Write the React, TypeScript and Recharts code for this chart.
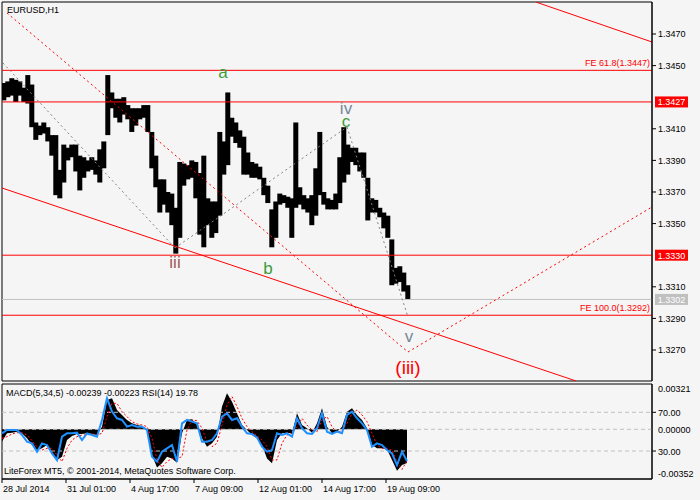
import React from 'react';
import {
  ComposedChart,
  Bar,
  Area,
  Line,
  XAxis,
  YAxis,
  ReferenceLine,
  ReferenceArea,
  ReferenceDot,
} from 'recharts';

const FONT = '"Liberation Sans", Arial, sans-serif';
const BG = '#f5f5f5';

// ---------- price data (H1 bars, aggregated 4 hours per mark) ----------
const GROUP_HOURS = 4;
const priceHigh = [
  1.3439, 1.344, 1.3442, 1.3441, 1.344, 1.3436, 1.3444, 1.3438, 1.3414, 1.3412,
  1.3414, 1.3411, 1.3406, 1.3406, 1.3384, 1.34, 1.3398, 1.34, 1.34, 1.3393,
  1.3392, 1.339, 1.3392, 1.339, 1.3397, 1.3402, 1.3444, 1.3433, 1.3429, 1.3429,
  1.343, 1.3425, 1.3423, 1.3423, 1.3423, 1.3425, 1.3425, 1.3408, 1.3393, 1.3378,
  1.3378, 1.337, 1.3369, 1.336, 1.3389, 1.3388, 1.3387, 1.339, 1.3389, 1.3382,
  1.3393, 1.3366, 1.3364, 1.3364, 1.3408, 1.3402, 1.3433, 1.3417, 1.3414, 1.3409,
  1.3405, 1.3395, 1.3389, 1.3388, 1.3386, 1.3379, 1.3374, 1.3359, 1.3364, 1.3369,
  1.3368, 1.3367, 1.3366, 1.3414, 1.3373, 1.3368, 1.3366, 1.3368, 1.3385, 1.3408,
  1.337, 1.3366, 1.3365, 1.3369, 1.3392, 1.3411, 1.34, 1.3398, 1.3398, 1.3395,
  1.3395, 1.3379, 1.3366, 1.3365, 1.336, 1.3357, 1.3355, 1.334, 1.3322, 1.3323,
  1.3319, 1.3311,
];
const priceLow = [
  1.3428, 1.343, 1.3431, 1.3427, 1.3431, 1.3427, 1.3426, 1.3411, 1.3403, 1.3406,
  1.3407, 1.3402, 1.3393, 1.3368, 1.3366, 1.3376, 1.339, 1.3392, 1.3383, 1.3371,
  1.3379, 1.3383, 1.3384, 1.3381, 1.3376, 1.3385, 1.3406, 1.3423, 1.3417, 1.3414,
  1.3419, 1.3416, 1.3408, 1.3412, 1.3416, 1.3417, 1.3408, 1.3385, 1.3373, 1.3357,
  1.3362, 1.3357, 1.3349, 1.3331, 1.3341, 1.3374, 1.3378, 1.3379, 1.3366, 1.3343,
  1.3335, 1.3349, 1.3341, 1.3344, 1.3355, 1.3381, 1.3387, 1.3405, 1.3401, 1.3398,
  1.3381, 1.3381, 1.3379, 1.3379, 1.3378, 1.3368, 1.3363, 1.3335, 1.3341, 1.3362,
  1.3363, 1.336, 1.3341, 1.336, 1.3362, 1.3359, 1.3357, 1.3349, 1.3355, 1.3368,
  1.3362, 1.3359, 1.3359, 1.3359, 1.3363, 1.3376, 1.3381, 1.3389, 1.3387, 1.3383,
  1.3379, 1.3352, 1.3357, 1.3357, 1.3354, 1.3347, 1.3341, 1.3311, 1.3312, 1.3313,
  1.3307, 1.3302,
];

// ---------- oscillator data (sampled every 5 bars) ----------
const OSC_STEP = 5;
const macdMain = [
  -0.00087, -0.00028, -0.00024, -0.00017, -0.00028, -0.00064, -0.00111, -0.00147, -0.00135, -0.00111,
  -0.0017, -0.00217, -0.00194, -0.00076, -0.00047, -0.00033, -0.00033, -0.00028, -0.00033, -0.0004,
  0.00019, 0.00208, 0.0022, 0.00137, 0.00102, 0.00066, 0.00043, 0.00031, 0.00024, 0.00002,
  -0.00182, -0.0027, -0.00241, -0.00194, -0.00206, -0.00236, -0.00028, 0.00066, 0.00071, 0.00031,
  -0.00064, -0.00123, -0.00099, -0.00052, 0.00161, 0.00255, 0.00196, 0.00113, 0.00031, -0.00005,
  -0.0004, -0.00064, -0.00111, -0.00206, -0.00241, -0.00076, -0.00028, -0.00024, -0.00028, 0.00113,
  0.00031, 0.00007, -0.00024, 0.00043, 0.00149, 0.00019, -0.00028, -0.00017, 0.00019, 0.00125,
  0.00149, 0.00102, 0.00066, 0.00007, -0.00111, -0.00135, -0.00135, -0.00142, -0.00217, -0.00293,
  -0.00253, -0.00239,
];
const macdSignal = [
  -0.00064, -0.00052, -0.00033, -0.00024, -0.00024, -0.0004, -0.0008, -0.00123, -0.00147, -0.00135,
  -0.00135, -0.00182, -0.00229, -0.00135, -0.00076, -0.00052, -0.0004, -0.0004, -0.00033, -0.0004,
  -0.00028, 0.0009, 0.00184, 0.00184, 0.00125, 0.0009, 0.00054, 0.00038, 0.00031, 0.00019,
  -0.00064, -0.00217, -0.0027, -0.00229, -0.00206, -0.00206, -0.00194, -0.00005, 0.00066, 0.00061,
  0.00007, -0.00087, -0.00123, -0.00099, 0.00031, 0.00173, 0.00232, 0.00161, 0.00078, 0.00019,
  -0.00017, -0.00047, -0.00076, -0.00123, -0.00217, -0.00217, -0.00099, -0.0004, -0.00028, 0.00019,
  0.00078, 0.00031, -0.00005, -0.00017, 0.00066, 0.0009, 0.00019, -0.00024, -0.00009, 0.00043,
  0.00113, 0.00137, 0.00102, 0.00054, -0.00028, -0.00111, -0.00135, -0.00135, -0.00147, -0.00229,
  -0.00284, -0.00223,
];
const rsiValues = [
  48.3, 51.7, 51.7, 51.7, 46.6, 39.7, 37.9, 29.3, 37.9, 36.2,
  27.6, 20.7, 44.8, 48.3, 48.3, 49.0, 41.4, 48.3, 46.6, 44.8,
  62.1, 84.5, 70.7, 63.8, 62.1, 55.2, 56.9, 55.2, 55.2, 51.7,
  24.1, 19.0, 29.3, 32.8, 36.2, 19.0, 58.6, 62.1, 60.4, 58.6,
  39.7, 39.7, 41.4, 48.3, 65.5, 69.0, 62.1, 63.8, 55.2, 48.3,
  47.6, 44.1, 34.5, 29.3, 31.0, 48.3, 46.6, 48.3, 44.8, 63.8,
  53.5, 48.3, 47.6, 53.5, 69.0, 50.0, 47.6, 50.0, 48.3, 67.3,
  70.7, 63.8, 58.6, 51.7, 34.5, 37.9, 36.2, 31.0, 27.6, 15.5,
  29.3, 19.78,
];

// ---------- axes ----------
const PRICE_MIN = 1.325038;
const PRICE_MAX = 1.349025;
const BAR_MIN = 0;
const BAR_MAX = 650;
const priceTicks = [1.327, 1.329, 1.331, 1.335, 1.337, 1.339, 1.341, 1.345, 1.347];
const timeTicks = [0, 64, 128, 192, 256, 320, 384];
const timeLabels = ['28 Jul 2014', '31 Jul 01:00', '4 Aug 17:00', '7 Aug 09:00', '12 Aug 01:00', '14 Aug 17:00', '19 Aug 09:00'];
const MACD_MIN = -0.00352;
const MACD_MAX = 0.00321;
const macdTicks = [MACD_MAX, 0, MACD_MIN];
const RSI_MIN = 1.1;
const RSI_MAX = 99.25;
const rsiLevels = [70, 30];

// ---------- chart objects ----------
const levels = [
  { price: 1.3447, kind: 'fe', text: 'FE 61.8(1.3447)' },
  { price: 1.3427, kind: 'tag', text: '1.3427' },
  { price: 1.333, kind: 'tag', text: '1.3330' },
  { price: 1.3302, kind: 'bid', text: '1.3302' },
  { price: 1.3292, kind: 'fe', text: 'FE 100.0(1.3292)' },
];
const trendLines = [
  { kind: 'solid', from: [0, 1.337253], to: [574, 1.32504] },
  { kind: 'solid', from: [534, 1.34902], to: [650, 1.346494] },
  { kind: 'redDot', from: [5, 1.348329], to: [406, 1.326873] },
  { kind: 'redDot', from: [406, 1.326873], to: [650, 1.336051] },
  { kind: 'greyDot', from: [1, 1.345165], to: [173, 1.333456] },
  { kind: 'greyDot', from: [173, 1.333456], to: [345, 1.341114] },
  { kind: 'greyDot', from: [345, 1.341114], to: [406, 1.329089] },
];
const waveLabels = [
  { text: 'a', bar: 221, price: 1.344215, kind: 'minor' },
  { text: 'iv', bar: 344, price: 1.34193, kind: 'inter' },
  { text: 'c', bar: 344, price: 1.341114, kind: 'minor' },
  { text: 'iii', bar: 173, price: 1.33219, kind: 'low' },
  { text: 'b', bar: 266, price: 1.33181, kind: 'minor' },
  { text: 'v', bar: 407, price: 1.327506, kind: 'inter' },
  { text: '(iii)', bar: 406, price: 1.325481, kind: 'major' },
];

const levelStyle: Record<string, string> = { fe: '#ff0000', tag: '#ff0000', bid: '#c0c0c0' };
const trendStyle: Record<string, { stroke: string; dash?: string }> = {
  solid: { stroke: '#ff0000' },
  redDot: { stroke: '#ff0000', dash: '2 3' },
  greyDot: { stroke: '#808080', dash: '2 3' },
};
const waveStyle: Record<string, { fill: string; size: number }> = {
  minor: { fill: '#3c9d3c', size: 17 },
  inter: { fill: '#778899', size: 17 },
  low: { fill: '#a05a5a', size: 17 },
  major: { fill: '#ff0000', size: 19 },
};

const priceData = priceHigh.map((h, i) => ({
  bar: i * GROUP_HOURS + GROUP_HOURS / 2,
  hl: [priceLow[i], h],
}));
const oscData = macdMain.map((m, i) => ({
  bar: i * OSC_STEP,
  macd: m,
  signal: macdSignal[i],
  rsi: rsiValues[i],
}));

// ---------- renderers ----------
const RangeBar = (props: any) => {
  const { x, y, width, height } = props;
  if (x == null || y == null) return null;
  const cx = x + width / 2;
  const top = Math.min(y, y + height);
  const h = Math.max(1, Math.abs(height));
  return <rect x={cx - 2.5} y={top} width={5} height={h} fill="#000" />;
};

const PriceTag = (props: any) => {
  const { viewBox, text, bg } = props;
  const left = viewBox.x + viewBox.width + 3;
  const y = viewBox.y;
  return (
    <g>
      <rect x={left} y={y - 5.5} width={33} height={11} fill={bg} />
      <text x={left + 16.5} y={y + 3.5} textAnchor="middle" fill="#ffffff" fontSize={9} fontFamily={FONT}>
        {text}
      </text>
    </g>
  );
};

const FeLabel = (props: any) => {
  const { viewBox, text } = props;
  return (
    <text x={viewBox.x + viewBox.width - 2} y={viewBox.y - 4} textAnchor="end" fill="#ff0000" fontSize={9} fontFamily={FONT}>
      {text}
    </text>
  );
};

const RsiLabel = (props: any) => {
  const { viewBox, text } = props;
  const right = viewBox.x + viewBox.width;
  return (
    <g>
      <line x1={right} x2={right + 4} y1={viewBox.y} y2={viewBox.y} stroke="#000" />
      <text x={right + 6} y={viewBox.y + 3.5} fill="#000" fontSize={9} fontFamily={FONT}>
        {text}
      </text>
    </g>
  );
};

const PriceTick = (props: any) => {
  const { x, y, payload } = props;
  return (
    <text x={x} y={y + 3.2} fill="#000" fontSize={9} fontFamily={FONT}>
      {Number(payload.value).toFixed(4)}
    </text>
  );
};

const MacdTick = (props: any) => {
  const { x, y, payload } = props;
  const v = Number(payload.value);
  const dy = v > 0 ? 8 : v < 0 ? -2 : 3.5;
  return (
    <text x={x} y={y + dy} fill="#000" fontSize={9} fontFamily={FONT}>
      {v.toFixed(5)}
    </text>
  );
};

const TimeTick = (props: any) => {
  const { x, y, payload } = props;
  const idx = timeTicks.indexOf(payload.value);
  return (
    <text x={x + 1} y={y + 7} fill="#000" fontSize={9} fontFamily={FONT}>
      {timeLabels[idx]}
    </text>
  );
};

export default function App() {
  return (
    <div style={{ position: 'absolute', left: 0, top: 0, width: 700, height: 500, background: BG, overflow: 'hidden' }}>
      <div style={{ position: 'absolute', left: 0, top: 0 }}>
        <ComposedChart width={700} height={383} data={priceData} margin={{ top: 2, right: 2, bottom: 2, left: 2 }}>
          <XAxis dataKey="bar" type="number" domain={[BAR_MIN, BAR_MAX]} allowDataOverflow hide />
          <YAxis
            orientation="right"
            type="number"
            width={46}
            domain={[PRICE_MIN, PRICE_MAX]}
            allowDataOverflow
            ticks={priceTicks}
            interval={0}
            tickSize={4}
            tickMargin={2}
            axisLine={{ stroke: '#000' }}
            tickLine={{ stroke: '#000' }}
            tick={<PriceTick />}
          />
          <ReferenceArea x1={BAR_MIN} x2={BAR_MAX} y1={PRICE_MIN} y2={PRICE_MAX} fill="none" stroke="#000" ifOverflow="visible" />
          <Bar dataKey="hl" fill="#000" barSize={4} shape={<RangeBar />} isAnimationActive={false} />
          {levels.map((l, i) => (
            <ReferenceLine
              key={'lv' + i}
              y={l.price}
              stroke={levelStyle[l.kind]}
              strokeWidth={1}
              ifOverflow="visible"
              label={
                l.kind === 'fe' ? (
                  <FeLabel text={l.text} />
                ) : (
                  <PriceTag text={l.text} bg={levelStyle[l.kind]} />
                )
              }
            />
          ))}
          {trendLines.map((t, i) => (
            <ReferenceLine
              key={'tl' + i}
              segment={[
                { x: t.from[0], y: t.from[1] },
                { x: t.to[0], y: t.to[1] },
              ]}
              stroke={trendStyle[t.kind].stroke}
              strokeDasharray={trendStyle[t.kind].dash}
              strokeWidth={1}
              ifOverflow="hidden"
            />
          ))}
          {waveLabels.map((w, i) => (
            <ReferenceDot
              key={'wl' + i}
              x={w.bar}
              y={w.price}
              r={1}
              ifOverflow="visible"
              shape={(p: any) => (
                <text
                  x={p.cx}
                  y={p.cy}
                  textAnchor="middle"
                  fill={waveStyle[w.kind].fill}
                  fontSize={waveStyle[w.kind].size}
                  fontFamily={FONT}
                >
                  {w.text}
                </text>
              )}
            />
          ))}
        </ComposedChart>
      </div>
      <div style={{ position: 'absolute', left: 0, top: 383 }}>
        <ComposedChart width={700} height={117} data={oscData} margin={{ top: 1, right: 2, bottom: 0, left: 2 }}>
          <XAxis
            dataKey="bar"
            type="number"
            domain={[BAR_MIN, BAR_MAX]}
            allowDataOverflow
            ticks={timeTicks}
            interval={0}
            height={21}
            tickSize={4}
            tickMargin={2}
            axisLine={{ stroke: '#000' }}
            tickLine={{ stroke: '#000' }}
            tick={<TimeTick />}
          />
          <YAxis
            yAxisId="macd"
            orientation="right"
            type="number"
            width={46}
            domain={[MACD_MIN, MACD_MAX]}
            allowDataOverflow
            ticks={macdTicks}
            interval={0}
            tickSize={4}
            tickMargin={2}
            tickLine={false}
            axisLine={{ stroke: '#000' }}
            tick={<MacdTick />}
          />
          <YAxis yAxisId="rsi" type="number" domain={[RSI_MIN, RSI_MAX]} allowDataOverflow hide />
          <ReferenceArea
            yAxisId="macd"
            x1={BAR_MIN}
            x2={BAR_MAX}
            y1={MACD_MIN}
            y2={MACD_MAX}
            fill="none"
            stroke="#000"
            ifOverflow="visible"
          />
          <Area
            yAxisId="macd"
            dataKey="macd"
            type="linear"
            fill="#000"
            fillOpacity={1}
            stroke="none"
            baseValue={0}
            dot={false}
            activeDot={false}
            isAnimationActive={false}
          />
          <ReferenceLine yAxisId="macd" y={0} stroke="#c0c0c0" strokeDasharray="4 3" ifOverflow="visible" />
          {rsiLevels.map((lv) => (
            <ReferenceLine
              key={'rsi' + lv}
              yAxisId="rsi"
              y={lv}
              stroke="#c0c0c0"
              strokeDasharray="4 3"
              ifOverflow="visible"
              label={<RsiLabel text={lv.toFixed(2)} />}
            />
          ))}
          <Line
            yAxisId="macd"
            dataKey="signal"
            type="linear"
            stroke="#ff0000"
            strokeWidth={1}
            strokeDasharray="2 2"
            dot={false}
            activeDot={false}
            isAnimationActive={false}
          />
          <Line
            yAxisId="rsi"
            dataKey="rsi"
            type="linear"
            stroke="#1e90ff"
            strokeWidth={2}
            dot={false}
            activeDot={false}
            isAnimationActive={false}
          />
        </ComposedChart>
      </div>
      <svg width={700} height={500} style={{ position: 'absolute', left: 0, top: 0, pointerEvents: 'none' }}>
        <text x={7} y={13} fontSize={9} fontFamily={FONT} fill="#000">EURUSD,H1</text>
        <text x={6} y={396} fontSize={9} fontFamily={FONT} fill="#000">MACD(5,34,5) -0.00239 -0.00223 RSI(14) 19.78</text>
        <text x={4} y={474} fontSize={9} fontFamily={FONT} fill="#000">LiteForex MT5, © 2001-2014, MetaQuotes Software Corp.</text>
      </svg>
    </div>
  );
}
